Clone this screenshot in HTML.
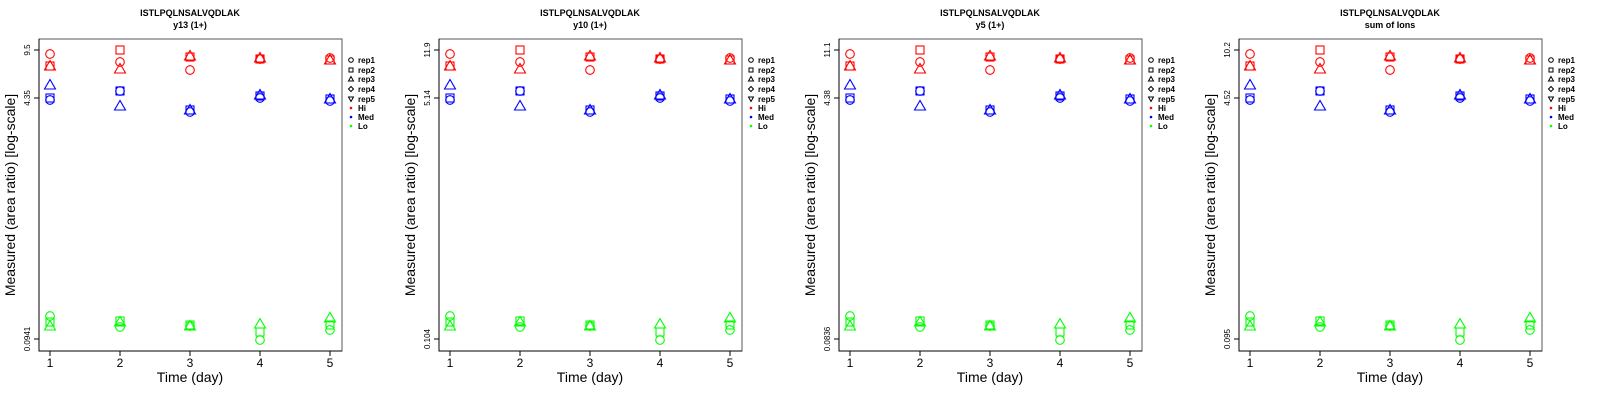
<!DOCTYPE html>
<html><head><meta charset="utf-8"><style>
html,body{margin:0;padding:0;background:#fff;width:1600px;height:400px;overflow:hidden}
svg{display:block;font-family:"Liberation Sans",sans-serif}
</style></head><body>
<svg id="s" width="1600" height="400" xmlns="http://www.w3.org/2000/svg"></svg>
<script>
const s=document.getElementById('s');let h='';
const titles=['y13 (1+)','y10 (1+)','y5 (1+)','sum of Ions'];
const ticks=[['9.5','4.35','0.0941'],['11.9','5.14','0.104'],['11.1','4.38','0.0836'],['10.2','4.52','0.095']];
// [day][sym y] : circle, square, triangle
const hi=[[54,66,66],[62,50,69],[70,57,56],[59,59,58],[58,60,60]];
const med=[[100,98,85],[91,91,106],[112,110,110],[98,96,95],[101,99,99]];
const lo=[[316,322,326],[327,321,322],[326,325,326],[340,332,324],[330,325,318]];
function sym(t,x,y,c){
 if(t==0)return `<circle cx="${x}" cy="${y}" r="4.3" fill="none" stroke="${c}" stroke-width="1.1"/>`;
 if(t==1)return `<rect x="${x-4}" y="${y-4}" width="8" height="8" fill="none" stroke="${c}" stroke-width="1.1"/>`;
 return `<polygon points="${x},${y-5.5} ${x-5.5},${y+4} ${x+5.5},${y+4}" fill="none" stroke="${c}" stroke-width="1.1"/>`;
}
for(let p=0;p<4;p++){
 const o=p*400;
 h+=`<g transform="translate(${o},0)">`;
 h+=`<text x="190" y="16" font-size="9" font-weight="bold" text-anchor="middle">ISTLPQLNSALVQDLAK</text>`;
 h+=`<text x="190" y="28" font-size="9" font-weight="bold" text-anchor="middle">${titles[p]}</text>`;
 h+=`<rect x="39" y="39" width="303" height="312" fill="none" stroke="#555" stroke-width="1"/>`;
 h+=`<path d="M39,39 V351 H342" fill="none" stroke="#000" stroke-width="1"/>`;
 for(let d=0;d<5;d++){const x=50+70*d;
  h+=`<line x1="${x}" y1="351" x2="${x}" y2="356" stroke="#000"/>`;
  h+=`<text x="${x}" y="367" font-size="12" text-anchor="middle">${d+1}</text>`;
  [[hi,'#f00'],[med,'#00f'],[lo,'#0f0']].forEach(([g,c])=>{for(let t=2;t>=0;t--)h+=sym(t,x,g[d][t],c);});
 }
 [50,98,339].forEach((y,i)=>{h+=`<line x1="34" y1="${y}" x2="39" y2="${y}" stroke="#000"/>`;
  h+=`<text transform="translate(30,${y}) rotate(-90)" font-size="8" text-anchor="middle">${ticks[p][i]}</text>`;});
 h+=`<text x="190" y="382" font-size="14" text-anchor="middle">Time (day)</text>`;
 h+=`<text transform="translate(15,195) rotate(-90)" font-size="14" text-anchor="middle">Measured (area ratio) [log-scale]</text>`;
 const lg=['rep1','rep2','rep3','rep4','rep5','Hi','Med','Lo'];const ly=[60,70,79,89,99,108,117,126];
 lg.forEach((l,i)=>{const y=ly[i],x=351;
  if(i==0)h+=`<circle cx="${x}" cy="${y}" r="2.3" fill="none" stroke="#000"/>`;
  else if(i==1)h+=`<rect x="${x-2}" y="${y-2}" width="4" height="4" fill="none" stroke="#000"/>`;
  else if(i==2)h+=`<polygon points="${x},${y-2.5} ${x-2.5},${y+2} ${x+2.5},${y+2}" fill="none" stroke="#000"/>`;
  else if(i==3)h+=`<polygon points="${x},${y-2.5} ${x+2.5},${y} ${x},${y+2.5} ${x-2.5},${y}" fill="none" stroke="#000"/>`;
  else if(i==4)h+=`<polygon points="${x},${y+2.5} ${x-2.5},${y-2} ${x+2.5},${y-2}" fill="none" stroke="#000"/>`;
  else h+=`<circle cx="${x}" cy="${y}" r="1.3" fill="${['#f00','#00f','#0f0'][i-5]}"/>`;
  h+=`<text x="358" y="${y+3}" font-size="8" font-weight="bold">${l}</text>`;});
 h+=`</g>`;
}
s.innerHTML=h;
</script>
</body></html>
